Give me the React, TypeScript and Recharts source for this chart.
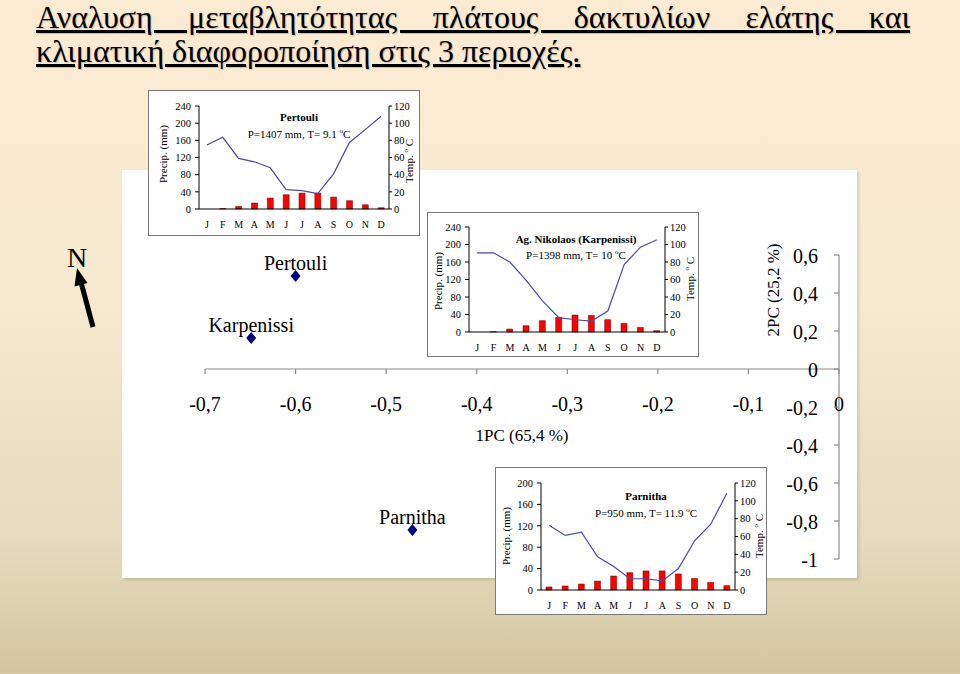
import React from 'react';
import {
  ScatterChart, Scatter, XAxis, YAxis, ReferenceLine, ReferenceDot,
  ComposedChart, Bar, Line,
} from 'recharts';

const serif = '"Liberation Serif", "Times New Roman", serif';

// PCA scores
const siteNames = ['Pertouli', 'Karpenissi', 'Parnitha'];
const pc1Scores = [-0.6, -0.649, -0.471];
const pc2Scores = [0.489, 0.163, -0.847];
const pc1Ticks = [-0.7, -0.6, -0.5, -0.4, -0.3, -0.2, -0.1, 0];
const pc2Ticks = [0.6, 0.4, 0.2, 0, -0.2, -0.4, -0.6, -0.8, -1];

// climate diagrams
const months = ['J', 'F', 'M', 'A', 'M', 'J', 'J', 'A', 'S', 'O', 'N', 'D'];
const tempTicks = [0, 20, 40, 60, 80, 100, 120];
const precipTicks240 = [0, 40, 80, 120, 160, 200, 240];
const precipTicks200 = [0, 40, 80, 120, 160, 200];

const pertouliPrecip = [149, 167, 118, 110, 96, 45, 43, 36, 82, 155, 185, 216];
const pertouliTemp = [0, 0.5, 3.1, 7, 12.7, 16.6, 18.5, 18.5, 13.9, 9.7, 5, 1.5];
const karpenissiPrecip = [181, 181, 160, 118, 71, 33, 28, 25, 48, 154, 194, 211];
const karpenissiTemp = [0, 0.3, 3.4, 7.2, 13, 16.8, 19.4, 19, 14.1, 9.9, 5.3, 1.5];
const parnithaPrecip = [121, 102, 108, 62, 44, 21, 21, 17, 40, 92, 123, 181];
const parnithaTemp = [3.4, 4.5, 6.7, 10, 15.7, 19.5, 21.4, 21.4, 18, 13, 8.6, 4.9];

const fmt = (v: number) => String(Math.round(v * 10) / 10 + 0).replace('.', ',');

const axisGrey = '#8a8a8a';

function Centered({ x, y, children, style }: any) {
  return (
    <div style={{
      position: 'absolute', left: x, top: y, transform: 'translate(-50%, -50%)',
      whiteSpace: 'nowrap', lineHeight: 1, fontFamily: serif, color: '#000', ...style,
    }}>
      {children}
    </div>
  );
}

function Rotated({ x, y, children, size }: any) {
  return (
    <div style={{
      position: 'absolute', left: x, top: y, transform: 'translate(-50%, -50%) rotate(-90deg)',
      whiteSpace: 'nowrap', lineHeight: 1, fontFamily: serif, fontSize: size, color: '#000',
    }}>
      {children}
    </div>
  );
}

function Diamond(props: any) {
  const { cx, cy, payload } = props;
  return (
    <g>
      <polygon points={`${cx},${cy - 6} ${cx + 5},${cy} ${cx},${cy + 6} ${cx - 5},${cy}`} fill="#000080" />
      <text x={cx} y={cy - 6} textAnchor="middle" fontSize={20} fontFamily={serif} fill="#000">
        {payload.name}
      </text>
    </g>
  );
}

function PcaChart() {
  const points = siteNames.map((name, i) => ({ name, x: pc1Scores[i], y: pc2Scores[i] }));
  return (
    <ScatterChart width={735} height={408} margin={{ top: 85, right: 18, bottom: 19, left: 83 }}>
      <XAxis type="number" dataKey="x" domain={[-0.7, 0]} hide allowDataOverflow />
      <YAxis type="number" dataKey="y" domain={[-1, 0.6]} hide allowDataOverflow />
      <ReferenceLine y={0} stroke={axisGrey} strokeWidth={1.2} />
      <ReferenceLine x={0} stroke={axisGrey} strokeWidth={1.2} />
      {pc1Ticks.map((v) => (
        <ReferenceDot
          key={'x' + v} x={v} y={0} r={0}
          shape={(p: any) => (
            <g>
              <line x1={p.cx} y1={p.cy} x2={p.cx} y2={p.cy + 5} stroke={axisGrey} strokeWidth={1.2} />
              <text x={p.cx} y={p.cy + 35} textAnchor="middle" dominantBaseline="central" fontSize={20} fontFamily={serif} fill="#000">
                {fmt(v)}
              </text>
            </g>
          )}
        />
      ))}
      {pc2Ticks.map((v) => (
        <ReferenceDot
          key={'y' + v} x={0} y={v} r={0}
          shape={(p: any) => (
            <g>
              <line x1={p.cx - 5} y1={p.cy} x2={p.cx} y2={p.cy} stroke={axisGrey} strokeWidth={1.2} />
              <text x={p.cx - 21} y={p.cy + 1} textAnchor="end" dominantBaseline="central" fontSize={20} fontFamily={serif} fill="#000">
                {fmt(v)}
              </text>
            </g>
          )}
        />
      ))}
      <Scatter data={points} shape={<Diamond />} isAnimationActive={false} />
    </ScatterChart>
  );
}

function Climate({ box, plot, precip, temp, pMax, pTicks, title, sub, labelPos }: any) {
  const data = months.map((m, i) => ({ m, p: precip[i], t: temp[i] }));
  const tick = { fontSize: 10.5, fill: '#000', fontFamily: serif };
  return (
    <div style={{
      position: 'absolute', left: box.x, top: box.y, width: box.w, height: box.h,
      border: '1px solid #7a7a7a', background: '#fff', boxSizing: 'border-box',
    }}>
      <ComposedChart width={box.w - 2} height={box.h - 2} data={data} margin={{ top: plot.t, right: 0, bottom: 0, left: 0 }}>
        <XAxis dataKey="m" height={plot.b} interval={0} tickLine={false} tickMargin={6} axisLine={{ stroke: '#000' }} tick={{ ...tick, fontSize: 10 }} />
        <YAxis yAxisId="p" orientation="left" width={plot.l} domain={[0, pMax]} ticks={pTicks}
          tick={tick} tickSize={4} tickMargin={4} axisLine={{ stroke: '#000' }} tickLine={{ stroke: '#000' }} />
        <YAxis yAxisId="t" orientation="right" width={plot.r} domain={[0, 120]} ticks={tempTicks}
          tick={tick} tickSize={3} tickMargin={2} axisLine={{ stroke: '#000' }} tickLine={{ stroke: '#000' }} />
        <Bar yAxisId="t" dataKey="t" fill="#ff0000" stroke="#5a0000" strokeWidth={0.5} barSize={6} isAnimationActive={false} />
        <Line yAxisId="p" dataKey="p" type="linear" stroke="#4a4aa8" strokeWidth={1.2} dot={false} isAnimationActive={false} />
      </ComposedChart>
      <Centered x={labelPos.title[0]} y={labelPos.title[1]} style={{ fontSize: 11, fontWeight: 'bold' }}>{title}</Centered>
      <Centered x={labelPos.sub[0]} y={labelPos.sub[1]} style={{ fontSize: 11 }}>
        {sub} <sup style={{ fontSize: 7 }}>o</sup>C
      </Centered>
      <Rotated x={labelPos.precip[0]} y={labelPos.precip[1]} size={11}>Precip. (mm)</Rotated>
      <Rotated x={labelPos.temp[0]} y={labelPos.temp[1]} size={11}>Temp. <sup style={{ fontSize: 7 }}>o</sup> C</Rotated>
    </div>
  );
}

export default function App() {
  return (
    <div style={{
      position: 'absolute', left: 0, top: 0, width: 960, height: 674, overflow: 'hidden',
      background: 'linear-gradient(to bottom, #fcebd3 0%, #f6e9cf 45%, #e6dbbc 80%, #d3c6a0 100%)',
      fontFamily: serif,
    }}>
      <div style={{
        position: 'absolute', left: 36, top: 0, width: 874, fontSize: 32, lineHeight: '34px',
        textDecoration: 'underline', color: '#000', fontFamily: '"Liberation Serif", serif',
        textShadow: '1px 1px 1px rgba(0,0,0,0.2)',
      }}>
        <div style={{ textAlign: 'justify', textAlignLast: 'justify' }}>Αναλυση μεταβλητότητας πλάτους δακτυλίων ελάτης και</div>
        <div>κλιματική διαφοροποίηση στις 3 περιοχές.</div>
      </div>

      <div style={{ position: 'absolute', left: 122, top: 170, width: 735, height: 408, background: '#fff', boxShadow: '2px 2px 3px rgba(0,0,0,0.12)' }}>
        <PcaChart />
      </div>

      <Centered x={77} y={258} style={{ fontSize: 28 }}>N</Centered>
      <svg style={{ position: 'absolute', left: 0, top: 0 }} width={160} height={360}>
        <line x1={93} y1={327} x2={81.5} y2={284} stroke="#000" strokeWidth={5} />
        <polygon points="77,268 87.5,283 74.5,286.5" fill="#000" />
      </svg>

      <Centered x={522} y={435} style={{ fontSize: 17 }}>1PC (65,4 %)</Centered>
      <Rotated x={773} y={290} size={17}>2PC (25,2 %)</Rotated>

      <Climate
        box={{ x: 148, y: 90, w: 272, h: 146 }} plot={{ l: 50, r: 30, t: 15, b: 26 }}
        precip={pertouliPrecip} temp={pertouliTemp} pMax={240} pTicks={precipTicks240}
        title="Pertouli" sub="P=1407 mm, T= 9.1"
        labelPos={{ title: [150, 26], sub: [150, 43], precip: [14, 63], temp: [260, 70] }}
      />
      <Climate
        box={{ x: 427, y: 212, w: 272, h: 145 }} plot={{ l: 41, r: 33, t: 14, b: 24 }}
        precip={karpenissiPrecip} temp={karpenissiTemp} pMax={240} pTicks={precipTicks240}
        title="Ag. Nikolaos (Karpenissi)" sub="P=1398 mm, T= 10"
        labelPos={{ title: [148, 26], sub: [148, 42], precip: [10, 68], temp: [262, 66] }}
      />
      <Climate
        box={{ x: 495, y: 467, w: 272, h: 148 }} plot={{ l: 45, r: 31, t: 15, b: 24 }}
        precip={parnithaPrecip} temp={parnithaTemp} pMax={200} pTicks={precipTicks200}
        title="Parnitha" sub="P=950 mm, T= 11.9"
        labelPos={{ title: [150, 28], sub: [150, 45], precip: [10, 68], temp: [263, 68] }}
      />
    </div>
  );
}
